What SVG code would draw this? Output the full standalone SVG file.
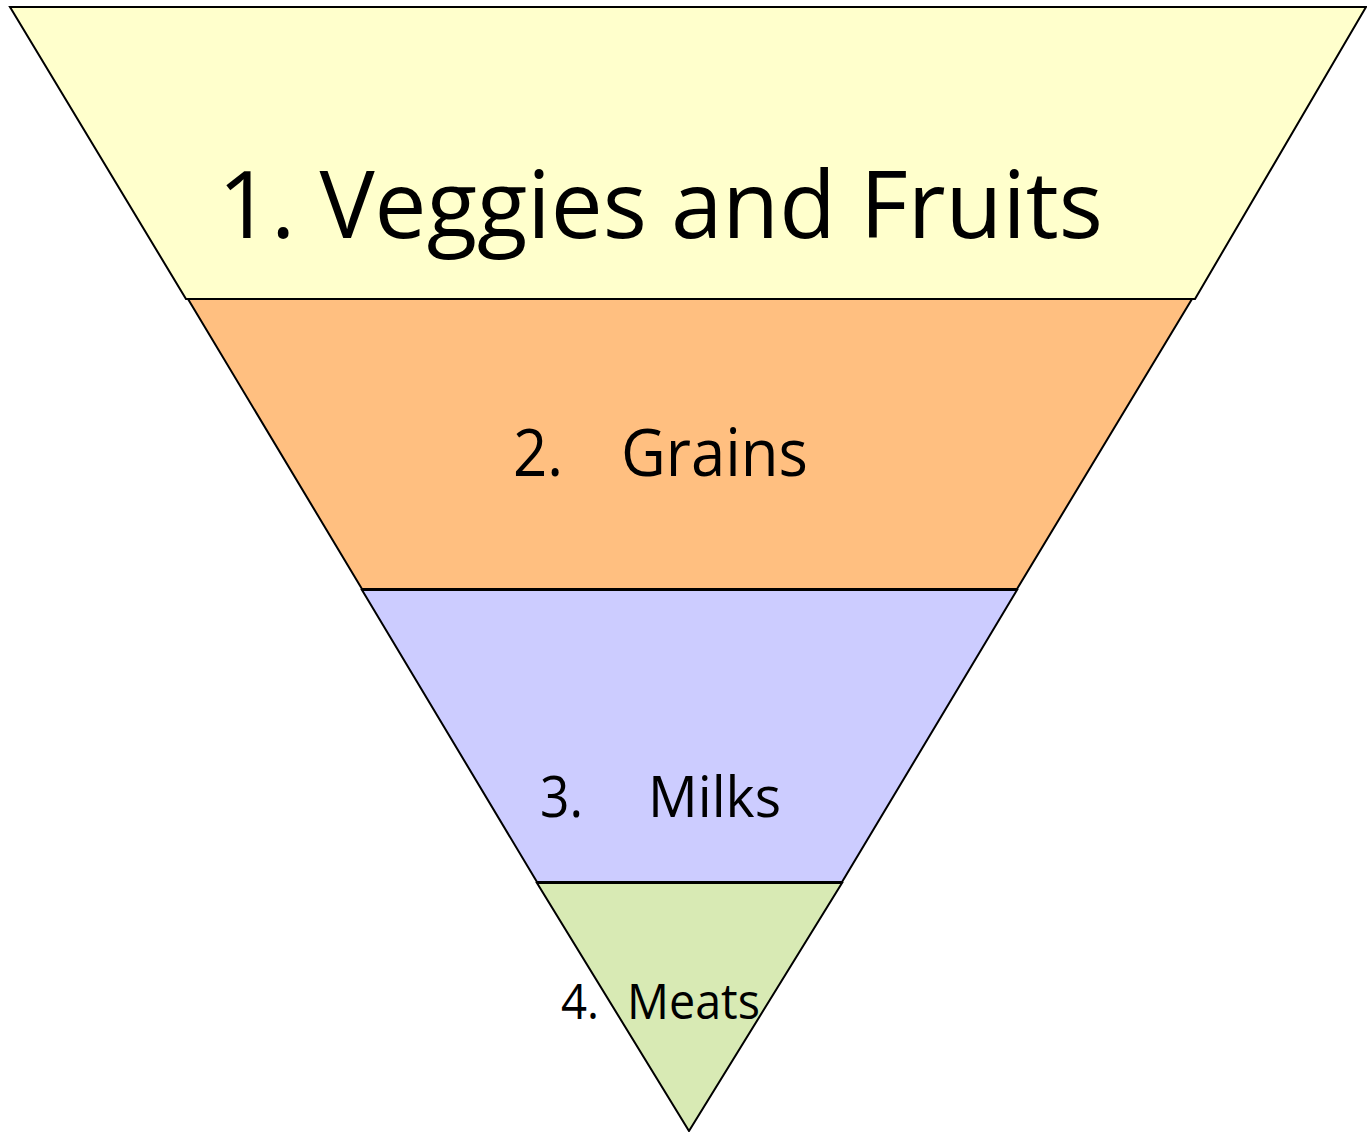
<svg xmlns="http://www.w3.org/2000/svg" width="1367" height="1132" viewBox="0 0 1367 1132">
<style>
.band{stroke:#000;stroke-width:2;stroke-linejoin:miter}
.t{font-family:"Open Sans","Noto Sans","Liberation Sans",sans-serif;fill:#000}
</style>
<rect width="1367" height="1132" fill="#fff"/>
<g id="band1">
<polygon class="band" fill="#FFFFCC" points="10,7 1366,7 1195,299 186,299"/>
<text class="t" x="218" y="238" font-size="94" textLength="885" lengthAdjust="spacingAndGlyphs">1. Veggies and Fruits</text>
</g>
<g id="band2">
<polygon class="band" fill="#FFBF80" points="188,299 1192,299 1017,589 362,589"/>
<text class="t" x="513" y="476" font-size="66" textLength="50" lengthAdjust="spacingAndGlyphs">2.</text>
<text class="t" x="621" y="476" font-size="66" textLength="187" lengthAdjust="spacingAndGlyphs">Grains</text>
</g>
<g id="band3">
<polygon class="band" fill="#CCCCFF" points="362,590 1017,590 842,882 537,882"/>
<text class="t" x="540" y="817" font-size="56" textLength="43" lengthAdjust="spacingAndGlyphs">3.</text>
<text class="t" x="648" y="817" font-size="56" textLength="133" lengthAdjust="spacingAndGlyphs">Milks</text>
</g>
<g id="band4">
<polygon class="band" fill="#D8EAB4" points="537,883 842,883 689,1131"/>
<text class="t" x="561" y="1019" font-size="49" textLength="38" lengthAdjust="spacingAndGlyphs">4.</text>
<text class="t" x="627" y="1019" font-size="49" textLength="133" lengthAdjust="spacingAndGlyphs">Meats</text>
</g>
<g id="connectors"></g>
</svg>
